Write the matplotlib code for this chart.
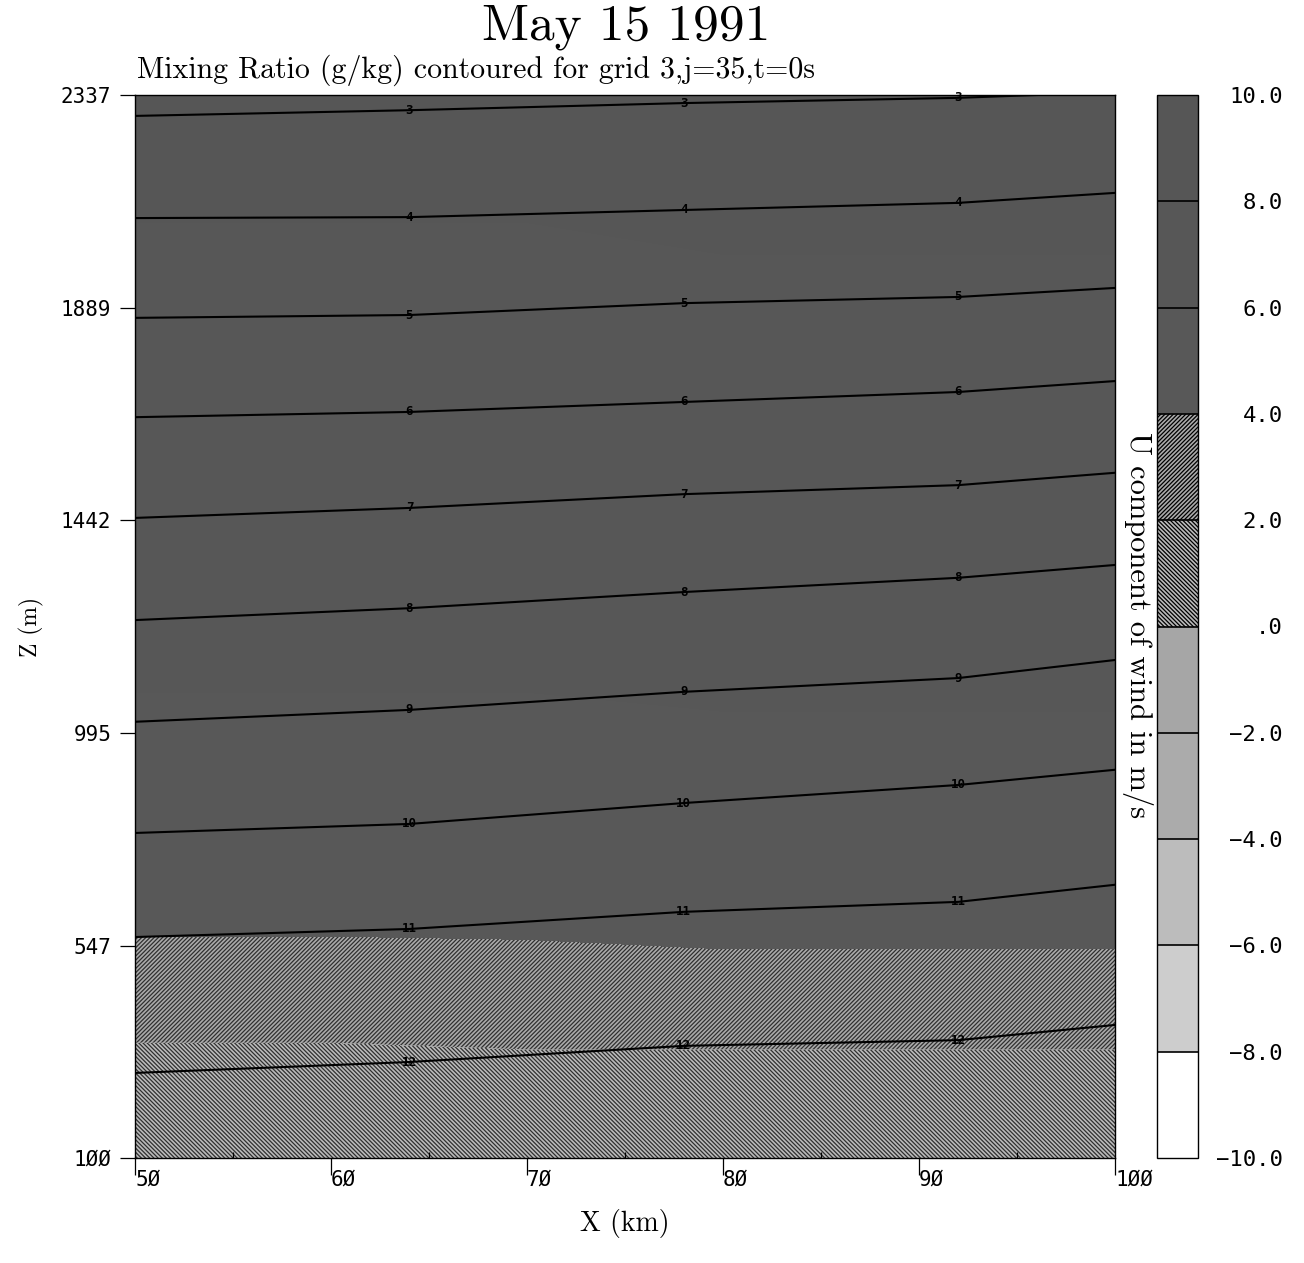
import numpy as np
import matplotlib
matplotlib.use('Agg')
import matplotlib.pyplot as plt

# U component of wind (m/s) on a coarse x-z grid
u_x = [50, 60, 70, 80, 90, 100]
u_z = [100, 200, 300, 400, 500, 600, 800, 1000, 1400, 1800, 2337]
u_wind = [
    [0.9, 0.9, 1.0, 1.0, 1.0, 1.0],
    [1.3, 1.3, 1.4, 1.4, 1.4, 1.4],
    [1.7, 1.7, 1.8, 1.8, 1.8, 1.8],
    [2.4, 2.4, 2.5, 2.5, 2.5, 2.5],
    [3.6, 3.6, 3.7, 3.8, 3.8, 3.8],
    [4.2, 4.2, 4.2, 4.3, 4.3, 4.3],
    [5.0, 5.0, 5.0, 5.1, 5.1, 5.1],
    [5.8, 5.8, 5.8, 5.9, 5.9, 5.9],
    [6.8, 6.8, 6.8, 6.9, 6.9, 6.9],
    [7.6, 7.6, 7.6, 7.7, 7.7, 7.7],
    [8.4, 8.4, 8.4, 8.5, 8.5, 8.5],
]
u_levels = [-10, -8, -6, -4, -2, 0, 2, 4, 6, 8, 10]
u_labels = ['−10.0', '−8.0', '−6.0', '−4.0', '−2.0', '.0',
            '2.0', '4.0', '6.0', '8.0', '10.0']

# mixing ratio isolines (g/kg): height of each line along x
mr_x = [50, 64, 78, 92, 100]
mr_levels = [3, 4, 5, 6, 7, 8, 9, 10, 11, 12]
mr_height = [
    [2293, 2305, 2320, 2331, 2343],
    [2078, 2080, 2095, 2110, 2131],
    [1868, 1874, 1899, 1912, 1931],
    [1659, 1670, 1691, 1712, 1735],
    [1447, 1468, 1497, 1516, 1542],
    [1232, 1257, 1291, 1321, 1348],
    [1018, 1043, 1081, 1110, 1148],
    [784, 803, 847, 885, 917],
    [565, 582, 618, 639, 675],
    [279, 302, 336, 348, 380],
]

x_ticks = [50, 60, 70, 80, 90, 100]
x_ticklabels = ['5Ø', '6Ø', '7Ø', '8Ø', '9Ø', '1ØØ']
z_ticks = [100, 547, 995, 1442, 1889, 2337]
z_ticklabels = ['1ØØ', '547', '995', '1442', '1889', '2337']

fill_colors = ['#ffffff', '#cdcdcd', '#bcbcbc', '#ababab', '#a6a6a6',
               '#bababa', '#aaaaaa', '#585858', '#575757', '#565656']
fill_hatches = [None, None, None, None, None,
                '\\' * 8, '/' * 8, None, None, None]

plt.rcParams['hatch.color'] = '#303030'
plt.rcParams['hatch.linewidth'] = 0.9

W, H = 1304, 1263
fig = plt.figure(figsize=(W / 100, H / 100), dpi=100)
ax = fig.add_axes([135 / W, 1 - 1158 / H, 980 / W, 1063 / H])
cax = fig.add_axes([1157 / W, 1 - 1158 / H, 41 / W, 1063 / H])

X, Z = np.meshgrid(u_x, u_z)
cf = ax.contourf(X, Z, np.array(u_wind), levels=u_levels,
                 colors=fill_colors, hatches=fill_hatches)

for lev, zs in zip(mr_levels, mr_height):
    ax.plot(mr_x, zs, color='black', lw=1.5)
    for xi, zi in zip(mr_x[1:4], zs[1:4]):
        ax.text(xi, zi, str(lev), fontsize=9, fontweight='bold',
                ha='center', va='center', color='black',
                family='DejaVu Sans Mono')

ax.set_xlim(50, 100)
ax.set_ylim(100, 2337)
ax.set_xticks(x_ticks)
ax.set_xticklabels(x_ticklabels, family='DejaVu Sans Mono', fontsize=15,
                   ha='left')
ax.set_yticks(z_ticks)
ax.set_yticklabels(z_ticklabels, family='DejaVu Sans Mono', fontsize=15)
ax.set_xticks(np.arange(55, 100, 10), minor=True)
ax.tick_params(axis='x', which='major', direction='out', length=12,
               width=0.9, pad=-4)
ax.tick_params(axis='y', which='major', direction='out', length=11,
               width=0.9, pad=6)
ax.tick_params(which='minor', direction='in', length=4, width=0.9)
for sp in ax.spines.values():
    sp.set_linewidth(1.0)

ax.set_xlabel('X (km)', family='cmr10', fontsize=20, labelpad=14)
ax.set_ylabel('Z (m)', family='cmr10', fontsize=17, labelpad=12)

cbar = fig.colorbar(cf, cax=cax, ticks=u_levels, drawedges=True)
cbar.outline.set_linewidth(1.0)
cbar.dividers.set_linewidth(1.2)
cbar.ax.set_yticklabels(u_labels, fontsize=16, family='DejaVu Sans Mono')
cbar.ax.tick_params(length=0, pad=61)
for lbl in cbar.ax.get_yticklabels():
    lbl.set_horizontalalignment('right')

fig.text(1138 / W, 1 - 625 / H, 'U component of wind in m/s', family='cmr10',
         fontsize=22, rotation=-90, ha='center', va='center')

fig.text(626 / W, 1 - 27 / H, 'May 15 1991', family='cmr10', fontsize=37,
         ha='center', va='center')
fig.text(137 / W, 1 - 70 / H, 'Mixing Ratio (g/kg) contoured for grid 3,j=35,t=0s',
         family='cmr10', fontsize=21.5, ha='left', va='center')

fig.savefig('out.png', dpi=100)
